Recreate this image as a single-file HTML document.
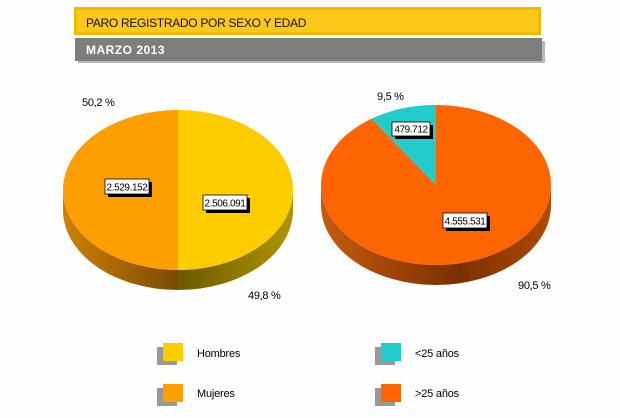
<!DOCTYPE html>
<html><head><meta charset="utf-8"><style>
body{margin:0;background:#fdfefd;width:620px;height:413px;overflow:hidden;font-family:"Liberation Sans",sans-serif}
</style></head><body>
<svg width="620" height="413" xmlns="http://www.w3.org/2000/svg" font-family="Liberation Sans, sans-serif">
<defs>
<linearGradient id="os" x1="0" x2="1"><stop offset="0" stop-color="#d08000"/><stop offset="1" stop-color="#7a4a05"/></linearGradient>
<linearGradient id="ys" x1="0" x2="1"><stop offset="0" stop-color="#6a5a00"/><stop offset="1" stop-color="#b09400"/></linearGradient>
<linearGradient id="rs" x1="0" x2="1"><stop offset="0" stop-color="#c85a10"/><stop offset="0.6" stop-color="#7a3000"/><stop offset="1" stop-color="#b04a00"/></linearGradient>
</defs>
<rect x="74" y="7" width="467" height="28" fill="#f3b800"/>
<rect x="77" y="10" width="461" height="22" fill="#fcc81a"/>
<text x="86" y="27" font-size="12" fill="#111" letter-spacing="-0.3">PARO REGISTRADO POR SEXO Y EDAD</text>
<rect x="78" y="41" width="467" height="22" fill="#b8b8b8"/>
<rect x="75" y="38" width="467" height="23" fill="#7c7e7c"/>
<text x="86" y="54" font-size="12" font-weight="bold" fill="#fff" letter-spacing="0.5">MARZO 2013</text>

<path d="M63 190 A115 80 0 0 0 178 270 L178 290 A115 80 0 0 1 63 210 Z" fill="url(#os)"/>
<path d="M178 270 A115 80 0 0 0 293 190 L293 210 A115 80 0 0 1 178 290 Z" fill="url(#ys)"/>
<path d="M178 190 L178 110 A115 80 0 0 0 178 270 Z" fill="#fd9f00"/>
<path d="M178 190 L178 110 A115 80 0 0 1 178 270 Z" fill="#fdcd00"/>
<text x="82" y="106" font-size="11" letter-spacing="-0.3">50,2 %</text>
<text x="248" y="299" font-size="11" letter-spacing="-0.3">49,8 %</text>
<g font-size="10" letter-spacing="-0.4" text-anchor="middle">
<rect x="108" y="182" width="44" height="15" fill="#000"/>
<rect x="105" y="179" width="44" height="15" fill="#fff" stroke="#000" stroke-width="0.8"/>
<text x="127" y="190.5">2.529.152</text>
<rect x="206" y="198" width="44" height="15" fill="#000"/>
<rect x="203" y="195" width="44" height="15" fill="#fff" stroke="#000" stroke-width="0.8"/>
<text x="225" y="206.5">2.506.091</text>
</g>

<path d="M321 185 A115 80 0 0 0 551 185 L551 205 A115 80 0 0 1 321 205 Z" fill="url(#rs)"/>
<path d="M436 185 L436 105 A115 80 0 0 1 436 265 A115 80 0 0 1 371.4 118.8 Z" fill="#fd6500"/>
<path d="M436 185 L371.4 118.8 A115 80 0 0 1 436 105 Z" fill="#22cccc"/>
<text x="377" y="100" font-size="11" letter-spacing="-0.3">9,5 %</text>
<text x="518" y="289" font-size="11" letter-spacing="-0.3">90,5 %</text>
<g font-size="10" letter-spacing="-0.4" text-anchor="middle">
<rect x="395" y="125" width="38" height="14" fill="#000"/>
<rect x="392" y="122" width="38" height="14" fill="#fff" stroke="#000" stroke-width="0.8"/>
<text x="411" y="132.5">479.712</text>
<rect x="446" y="216" width="44" height="15" fill="#000"/>
<rect x="443" y="213" width="44" height="15" fill="#fff" stroke="#000" stroke-width="0.8"/>
<text x="465" y="224.5">4.555.531</text>
</g>

<g font-size="11" letter-spacing="-0.2">
<rect x="157" y="347" width="20" height="18" fill="#999"/><rect x="163" y="343" width="20" height="18" fill="#fdcd00"/>
<text x="197" y="357">Hombres</text>
<rect x="157" y="388" width="20" height="18" fill="#999"/><rect x="163" y="384" width="20" height="18" fill="#fd9f00"/>
<text x="197" y="397">Mujeres</text>
<rect x="375" y="347" width="20" height="18" fill="#999"/><rect x="381" y="343" width="20" height="18" fill="#22cccc"/>
<text x="415" y="357">&lt;25 años</text>
<rect x="375" y="388" width="20" height="18" fill="#999"/><rect x="381" y="384" width="20" height="18" fill="#fd6500"/>
<text x="415" y="397">&gt;25 años</text>
</g>
</svg>
</body></html>
